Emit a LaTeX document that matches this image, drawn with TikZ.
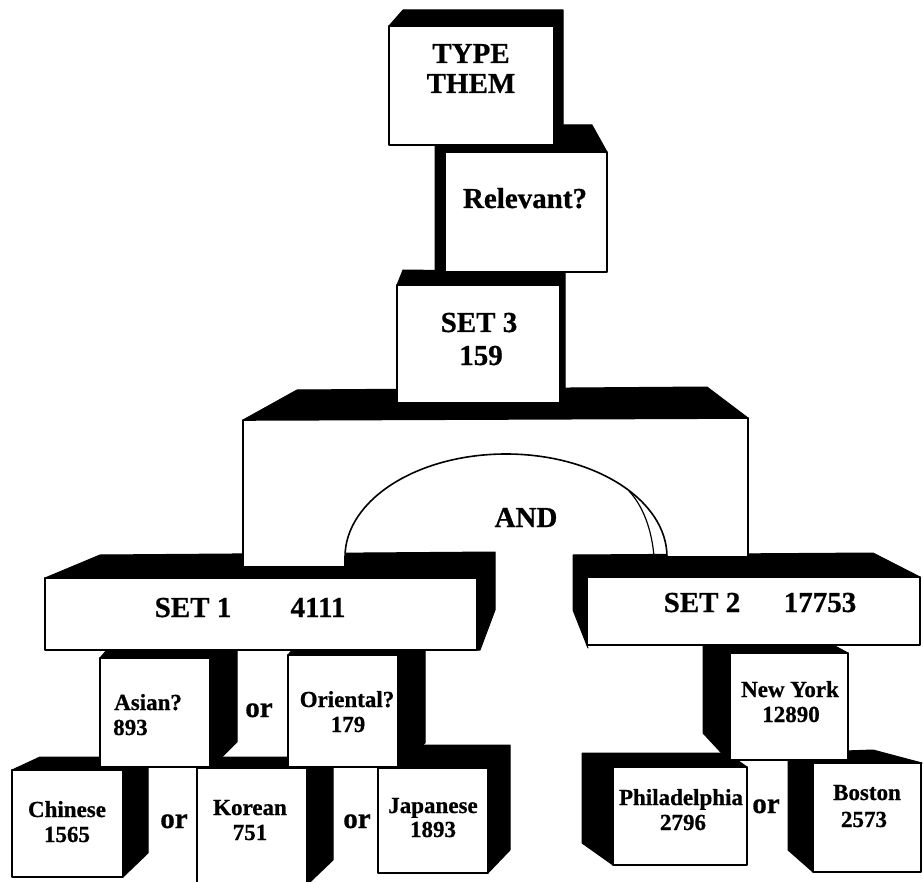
\documentclass[tikz,border=0pt]{standalone}
\usepackage{fontspec}
\setmainfont{Liberation Serif}[BoldFeatures={FakeBold=0.7}]
\begin{document}
\begin{tikzpicture}[x=1pt,y=-1pt,line join=round,
  darkface/.style={fill=black,draw=black,line width=1pt},
  frontface/.style={fill=white,draw=black,line width=1.6pt},
  big/.style={font=\fontsize{29}{31}\selectfont\bfseries,inner sep=0pt,anchor=base},
  small/.style={font=\fontsize{23}{25}\selectfont\bfseries,inner sep=0pt,anchor=base},
  ortext/.style={font=\fontsize{29}{31}\selectfont\bfseries,inner sep=0pt,anchor=base}]
\useasboundingbox (0,0) rectangle (923,882);
\fill[white] (0,0) rectangle (923,882);

% ---- bottom row ----
% Chinese
\filldraw[darkface] (12,770) -- (40,757) -- (148,757) -- (148,853) -- (123,877) -- (123,770) -- cycle;
\filldraw[frontface] (12,770) rectangle (123,877);
\node[small] (chi1) at (67,817) {Chinese};
\node[small] (chi2) at (67,842) {1565};
% Korean
\filldraw[darkface] (197,768) -- (205,757) -- (333,757) -- (333,860) -- (310,882) -- (307,882) -- (307,768) -- cycle;
\filldraw[frontface] (197,768) rectangle (307,884);
\node[small] (kor1) at (250,815) {Korean};
\node[small] (kor2) at (250,840) {751};
% Japanese
\filldraw[darkface] (378,768) -- (398,745) -- (510,745) -- (510,850) -- (488,873) -- (488,768) -- cycle;
\filldraw[frontface] (378,768) rectangle (488,873);
\node[small] (jap1) at (433,813) {Japanese};
\node[small] (jap2) at (433,837) {1893};
% Philadelphia
\filldraw[darkface] (747,767) -- (727,753) -- (582,753) -- (582,843) -- (613,865) -- (613,767) -- cycle;
\filldraw[frontface] (613,767) rectangle (747,865);
\node[small] (phi1) at (681,805) {Philadelphia};
\node[small] (phi2) at (683,830) {2796};
% Boston
\filldraw[darkface] (922,763) -- (873,750) -- (788,753) -- (788,850) -- (813,872) -- (813,763) -- cycle;
\filldraw[frontface] (813,763) rectangle (921,872);
\node[small] (bos1) at (867,800) {Boston};
\node[small] (bos2) at (864,827) {2573};
% or labels, bottom row
\node[ortext] (or1) at (174,828) {or};
\node[ortext] (or2) at (357,828) {or};
\node[ortext] (or4) at (766,813) {or};

% ---- middle row ----
% Asian?
\filldraw[darkface] (100,658) -- (106,651) -- (237,651) -- (237,742) -- (212,767) -- (210,767) -- (210,658) -- cycle;
\filldraw[frontface] (100,658) rectangle (210,767);
\node[small,anchor=base west] (asi1) at (114,710) {Asian?};
\node[small,anchor=base west] (asi2) at (113,735) {893};
% Oriental?
\filldraw[darkface] (288,655) -- (293,649) -- (425,649) -- (425,743) -- (400,767) -- (398,767) -- (398,655) -- cycle;
\filldraw[frontface] (288,655) rectangle (398,767);
\node[small] (ori1) at (347,707) {Oriental?};
\node[small] (ori2) at (348,732) {179};
\node[ortext] (or3) at (259,717) {or};
% New York
\filldraw[darkface] (848,653) -- (833,645) -- (703,645) -- (703,733) -- (728,760) -- (730,760) -- (730,653) -- cycle;
\filldraw[frontface] (730,653) rectangle (848,760);
\node[small] (ny1) at (790,697) {New York};
\node[small] (ny2) at (791,722) {12890};

% ---- SET 1 / SET 2 bars ----
\filldraw[darkface] (45,578) -- (100,555) -- (495,552) -- (495,610) -- (480,650) -- (477,650) -- (477,578) -- cycle;
\filldraw[frontface] (45,578) rectangle (477,650);
\node[big] (s1a) at (193,617) {SET 1};
\node[big] (s1b) at (318,617) {4111};
\filldraw[darkface] (920,577) -- (873,553) -- (573,555) -- (573,610) -- (588,648) -- (587,645) -- (587,577) -- cycle;
\filldraw[frontface] (587,577) rectangle (920,645);
\node[big] (s2a) at (702,612) {SET 2};
\node[big] (s2b) at (820,612) {17753};

% ---- AND block ----
\filldraw[darkface] (243,420) -- (297,390) -- (707,387) -- (748,418) -- cycle;
\filldraw[frontface] (243,420) -- (748,418) -- (748,557) -- (667,557)
  arc[start angle=0,end angle=180,x radius=161pt,y radius=103pt]
  -- (345,567) -- (243,567) -- cycle;
\draw[line width=1.2pt] (629,491) .. controls (643,506) and (652,530) .. (654,557) -- (667,560);
\node[big] (andt) at (526,527) {AND};

% ---- SET 3 ----
\filldraw[darkface] (397,285) -- (403,270) -- (565,272) -- (565,388) -- (560,403) -- (560,285) -- cycle;
\filldraw[frontface] (397,285) rectangle (560,403);
\node[big] (s3a) at (479,332) {SET 3};
\node[big] (s3b) at (481,365) {159};

% ---- Relevant? ----
\filldraw[darkface] (607,152) -- (592,125) -- (435,125) -- (435,272) -- (445,272) -- (445,152) -- cycle;
\filldraw[frontface] (445,152) rectangle (607,272);
\node[big] (rel) at (525,208) {Relevant?};

% ---- TYPE THEM ----
\filldraw[darkface] (389,26) -- (403,10) -- (563,10) -- (563,128) -- (554,145) -- (554,26) -- cycle;
\filldraw[frontface] (389,26) rectangle (554,145);
\node[big] (ty1) at (471,63) {TYPE};
\node[big] (ty2) at (471,93) {THEM};
\end{tikzpicture}
\end{document}
